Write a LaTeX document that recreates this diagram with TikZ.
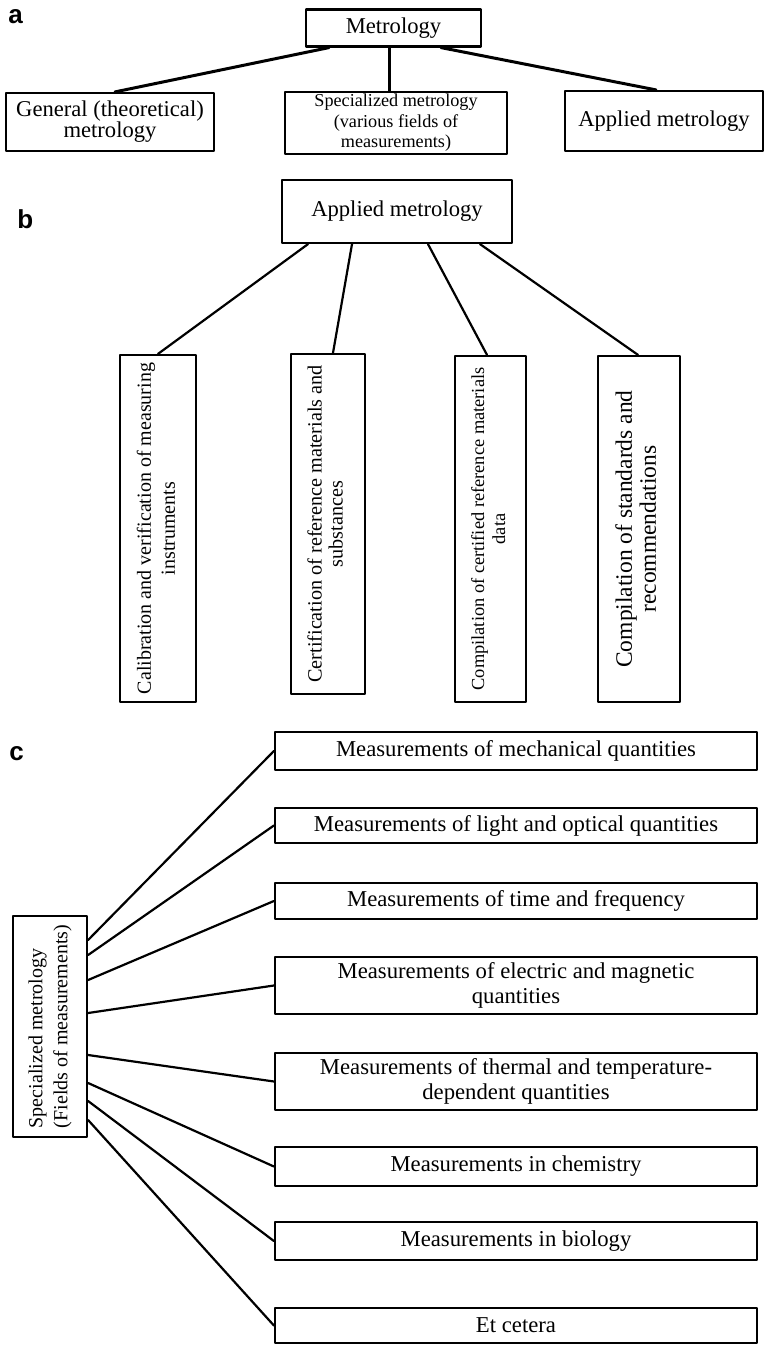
\documentclass[tikz,border=0pt]{standalone}
\usepackage{fontspec}
\usepackage{graphicx}
\setmainfont{Liberation Serif}
\newfontfamily\panelfont{Liberation Sans}
\usetikzlibrary{calc}

\newcommand\fsbig{\fontsize{11.3}{10.5}\selectfont}
\newcommand\fssmall{\fontsize{9.1}{10.25}\selectfont}
\newcommand\fsbox{\fontsize{11.35}{12.5}\selectfont}
\newcommand\vlabel[2]{\rotatebox{90}{\begin{tabular}{@{}#1@{}}#2\end{tabular}}}

\tikzset{
  box/.style={draw,line width=1.1pt,inner sep=0pt,align=center},
  fieldbox/.style={box,minimum width=241pt,font=\fsbox},
  conn/.style={line width=1.1pt},
  panel/.style={font=\panelfont\bfseries\fontsize{13}{13}\selectfont,inner sep=0pt,anchor=base west},
}

\begin{document}
\begin{tikzpicture}[x=.5pt,y=-.5pt,line cap=round,line join=round]
  \useasboundingbox (0,0) rectangle (764,1345);

  \node[panel] (pa) at (8,23) {a};
  \node[box,minimum width=87.5pt,minimum height=18.5pt,font=\fsbig] (metro) at (393.5,28) {Metrology};
  \node[box,minimum width=104pt,minimum height=29pt,font=\fsbig] (general) at (110,122) {General (theoretical)\\metrology};
  \node[box,minimum width=111pt,minimum height=31pt,font=\fssmall] (special) at (396,123) {Specialized metrology\\(various fields of\\measurements)};
  \node[box,minimum width=99pt,minimum height=30pt,font=\fsbig] (applied) at (664,121) {Applied metrology};
  \draw[conn,line width=1.5pt] ($(metro.south)+(-64.5,0)$) -- ($(general.north)+(5,0)$);
  \draw[conn,line width=1.5pt] ($(metro.south)+(-4.5,0)$) -- ($(special.north)+(-7,0)$);
  \draw[conn,line width=1.5pt] ($(metro.south)+(47.5,0)$) -- ($(applied.north)+(-8,0)$);

  \node[panel] (pb) at (17,228) {b};
  \node[box,minimum width=115pt,minimum height=31.5pt,font=\fsbig] (appl) at (397,211.5) {Applied metrology};
  \node[box,minimum width=38pt,minimum height=173.5pt,font=\fontsize{10}{12}\selectfont] (calib) at (158,528.5)
    {\vlabel{c}{Calibration and verification of measuring\\instruments}};
  \node[box,minimum width=37pt,minimum height=170pt,font=\fontsize{10.1}{10.5}\selectfont] (certif) at (328,524)
    {\vlabel{c}{Certification of reference materials and\\substances}};
  \node[box,minimum width=35.5pt,minimum height=173pt,font=\fontsize{9.2}{10.5}\selectfont] (compdata) at (490.5,529)
    {\vlabel{c}{Compilation of certified reference materials\\data}};
  \node[box,minimum width=41pt,minimum height=173pt,font=\fontsize{11.75}{12}\selectfont] (compstd) at (639,529)
    {\vlabel{c}{Compilation of standards and\\recommendations}};
  \draw[conn] ($(appl.south)+(-89,0)$) -- (calib.north);
  \draw[conn] ($(appl.south)+(-45,0)$) -- ($(certif.north)+(5,0)$);
  \draw[conn] ($(appl.south)+(31,0)$) -- ($(compdata.north)+(-3.5,0)$);
  \draw[conn] ($(appl.south)+(83,0)$) -- ($(compstd.north)+(-1,0)$);

  \node[panel] (pc) at (9,760) {c};
  \node[box,minimum width=37pt,minimum height=110.5pt,font=\fontsize{10}{12.5}\selectfont] (fields) at (50,1026.5)
    {\vlabel{l}{Specialized metrology\\(Fields of measurements)}};
  \node[fieldbox,minimum height=18.75pt] (mech) at (516,751) {Measurements of mechanical quantities};
  \node[fieldbox,minimum height=17.5pt] (light) at (516,825.5) {Measurements of light and optical quantities};
  \node[fieldbox,minimum height=18pt] (time) at (516,901) {Measurements of time and frequency};
  \node[fieldbox,minimum height=28.5pt] (elec) at (516,985.5) {Measurements of electric and magnetic\\quantities};
  \node[fieldbox,minimum height=28.5pt] (therm) at (516,1081.5) {Measurements of thermal and temperature-\\dependent quantities};
  \node[fieldbox,minimum height=19.5pt] (chem) at (516,1166.5) {Measurements in chemistry};
  \node[fieldbox,minimum height=19pt] (bio) at (516,1241) {Measurements in biology};
  \node[fieldbox,minimum height=17.5pt] (etc) at (516,1325.5) {Et cetera};
  \draw[conn] ($(fields.east)+(0,-86.5)$) -- (mech.west);
  \draw[conn] ($(fields.east)+(0,-71.5)$) -- (light.west);
  \draw[conn] ($(fields.east)+(0,-46.5)$) -- (time.west);
  \draw[conn] ($(fields.east)+(0,-13.5)$) -- (elec.west);
  \draw[conn] ($(fields.east)+(0,28.5)$) -- (therm.west);
  \draw[conn] ($(fields.east)+(0,56.5)$) -- (chem.west);
  \draw[conn] ($(fields.east)+(0,74.5)$) -- (bio.west);
  \draw[conn] ($(fields.east)+(0,93.5)$) -- (etc.west);
\end{tikzpicture}
\end{document}
